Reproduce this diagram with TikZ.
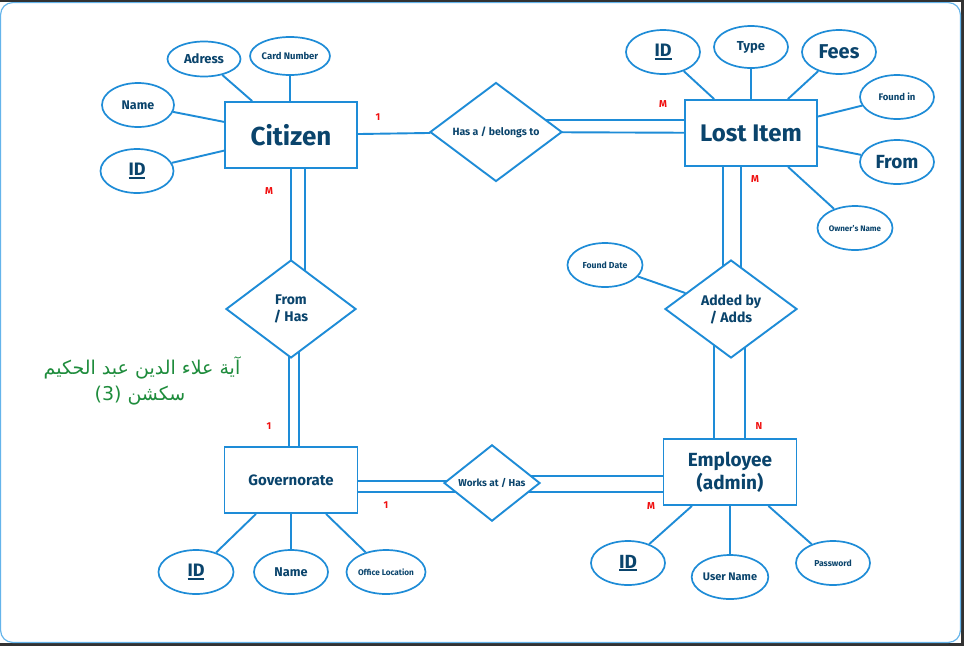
\documentclass[tikz,border=0pt]{standalone}
\usepackage{fontspec}
\setmainfont{Fira Sans}
\newfontfamily\arabicfont[Script=Arabic]{DejaVu Sans}
\TeXXeTstate=1
\usetikzlibrary{shapes.geometric,backgrounds}
\definecolor{lc}{RGB}{30,140,215}
\definecolor{tc}{RGB}{10,68,108}
\definecolor{rc}{RGB}{240,15,15}
\definecolor{gc}{RGB}{30,140,60}
\definecolor{framec}{RGB}{100,180,235}
\definecolor{darkc}{RGB}{50,50,50}
\newcommand\uid{\vtop{\hbox{ID}\kern1.2pt\hrule height 1.9pt}}
\newcommand\fs[2]{\fontsize{#1}{#2}\selectfont}
\tikzset{
  ent/.style={draw=lc, line width=1.9pt, fill=white, rectangle, inner sep=0pt, text=tc, align=center},
  attr/.style={draw=lc, line width=1.7pt, fill=white, ellipse, minimum width=74pt, minimum height=44pt, inner sep=0pt, text=tc},
  rel/.style={draw=lc, line width=1.9pt, fill=white, diamond, inner sep=0pt, text=tc, align=center},
  conn/.style={draw=lc, line width=1.9pt},
  card/.style={text=rc, inner sep=0pt, font=\bfseries\fs{10}{10}},
}
\begin{document}
\begin{tikzpicture}[x=1pt,y=-1pt]
\useasboundingbox (0,0) rectangle (964,646);
\begin{scope}[on background layer]
\fill[white] (0,0) rectangle (964,646);
\fill[darkc] (0,0) rectangle (964,2);
\fill[darkc] (961,0) rectangle (964,646);
\fill[darkc] (0,643) rectangle (964,646);
\draw[framec, line width=1.2pt, rounded corners=12pt] (0.6,2.6) rectangle (960.4,642.4);
\end{scope}

% entities
\node[ent, minimum width=132pt, minimum height=66pt, font=\bfseries\fs{26}{30}] (citizen) at (291,135) {Citizen};
\node[ent, minimum width=132pt, minimum height=66pt, font=\bfseries\fs{24}{28}] (lost) at (751,133) {Lost Item};
\node[ent, minimum width=133pt, minimum height=66pt, font=\bfseries\fs{19}{23}] (employee) at (730,472) {Employee\\(admin)};
\node[ent, minimum width=133pt, minimum height=66pt, font=\bfseries\fs{15}{18}] (gov) at (291,480) {Governorate};

% relationships
\node[rel, minimum width=132pt, minimum height=99pt, font=\bfseries\fs{10.5}{12}] (hasa) at (496,132) {Has a / belongs to};
\node[rel, minimum width=130pt, minimum height=98pt, font=\bfseries\fs{14}{17}] (fromhas) at (291,309) {From\\/ Has};
\node[rel, minimum width=132pt, minimum height=98pt, font=\bfseries\fs{14}{17}] (addedby) at (731,309) {Added by\\/ Adds};
\node[rel, minimum width=96pt, minimum height=72pt, font=\bfseries\fs{10}{12}] (works) at (492,483) {Works at / Has};

% citizen attributes
\node[attr, minimum width=73pt, minimum height=35pt, font=\bfseries\fs{13}{15}] (adress) at (204,59) {Adress};
\node[attr, minimum width=75pt, minimum height=38pt, font=\bfseries\fs{9.5}{11}] (card) at (290,56) {Card Number};
\node[attr, minimum width=72pt, font=\bfseries\fs{12.5}{15}] (cname) at (138,105) {Name};
\node[attr, minimum width=73pt, font=\bfseries\fs{18}{20}] (cid) at (137,171) {\uid};

% lost item attributes
\node[attr, font=\bfseries\fs{18}{20}] (lid) at (663,52) {\uid};
\node[attr, minimum height=42pt, font=\bfseries\fs{13}{15}] (type) at (751,47) {Type};
\node[attr, font=\bfseries\fs{20}{22}] (fees) at (839,52) {Fees};
\node[attr, font=\bfseries\fs{9.5}{11}] (foundin) at (897,97) {Found in};
\node[attr, font=\bfseries\fs{19}{21}] (from) at (897,162) {From};
\node[attr, minimum width=75pt, font=\bfseries\fs{8}{9}] (owner) at (855,228) {Owner's Name};

% relationship attribute
\node[attr, minimum width=75pt, font=\bfseries\fs{8.7}{10}] (fdate) at (605,265) {Found Date};

% employee attributes
\node[attr, font=\bfseries\fs{19}{21}] (eid) at (628,563) {\uid};
\node[attr, font=\bfseries\fs{11}{13}] (uname) at (730,577) {User Name};
\node[attr, font=\bfseries\fs{8.6}{10}] (pass) at (833,563) {Password};

% governorate attributes
\node[attr, minimum width=75pt, font=\bfseries\fs{18}{20}] (gid) at (196,572) {\uid};
\node[attr, font=\bfseries\fs{12.7}{15}] (gname) at (291,572) {Name};
\node[attr, font=\bfseries\fs{8.2}{10}] (office) at (386,572) {Office Location};

% cardinalities
\node[card] (c1) at (378,117) {1};
\node[card] (c2) at (663,104) {M};
\node[card] (c3) at (269,191) {M};
\node[card] (c4) at (755,179) {M};
\node[card] (c5) at (269,426) {1};
\node[card] (c6) at (759,426) {N};
\node[card] (c7) at (386,505) {1};
\node[card] (c8) at (651,506) {M};

% arabic text
\node[text=gc, inner sep=0pt, font=\arabicfont\fs{19}{22}] (ar1) at (142,368) {\beginR آية علاء الدين عبد الحكيم\endR};
\node[text=gc, inner sep=0pt, font=\arabicfont\fs{19}{22}] (ar2) at (140,396) {\beginR سكشن \beginL(3)\endL\endR};

\begin{scope}[on background layer]
% attribute links
\draw[conn] (adress) -- (citizen);
\draw[conn] (card) -- (card |- citizen.north);
\draw[conn] (cname) -- (citizen);
\draw[conn] (cid) -- (citizen);
\draw[conn] (lid) -- (lost);
\draw[conn] (type) -- (type |- lost.north);
\draw[conn] (fees) -- (lost);
\draw[conn] (foundin) -- (lost);
\draw[conn] (from) -- (lost);
\draw[conn] (owner) -- (lost);
\draw[conn] (fdate) -- (addedby);
\draw[conn] (eid) -- (employee);
\draw[conn] (uname) -- (uname |- employee.south);
\draw[conn] (pass) -- (employee);
\draw[conn] (gid) -- (gov);
\draw[conn] (gname) -- (gname |- gov.south);
\draw[conn] (office) -- (gov);
% relationship links
\draw[conn] (citizen) -- (hasa);
\draw[conn] ([yshift=12pt]hasa.center) -- ([yshift=13pt]lost.center);
\draw[conn] (hasa.center) -- (lost.center);
\draw[conn] (citizen.center) -- (fromhas.center);
\draw[conn] ([xshift=14pt]citizen.center) -- ([xshift=14pt]fromhas.center);
\draw[conn] ([xshift=-2pt]fromhas.center) -- ([xshift=-2pt]fromhas.center |- gov.center);
\draw[conn] ([xshift=8pt]fromhas.center) -- ([xshift=8pt]fromhas.center |- gov.center);
\draw[conn] ([xshift=-28pt]lost.center) -- ([xshift=-28pt]lost.center |- addedby.center);
\draw[conn] ([xshift=-10pt]lost.center) -- ([xshift=-10pt]lost.center |- addedby.center);
\draw[conn] ([xshift=-17pt]addedby.center) -- ([xshift=-17pt]addedby.center |- employee.center);
\draw[conn] ([xshift=14pt]addedby.center) -- ([xshift=14pt]addedby.center |- employee.center);
\draw[conn] ([yshift=-4pt]employee.center) -- ([yshift=-4pt]employee.center -| works.center);
\draw[conn] ([yshift=-20pt]employee.center) -- ([yshift=-20pt]employee.center -| works.center);
\draw[conn] ([yshift=-1pt]gov.center) -- ([yshift=-1pt]gov.center -| works.center);
\draw[conn] ([yshift=-12pt]gov.center) -- ([yshift=-12pt]gov.center -| works.center);
\end{scope}
\end{tikzpicture}
\end{document}
